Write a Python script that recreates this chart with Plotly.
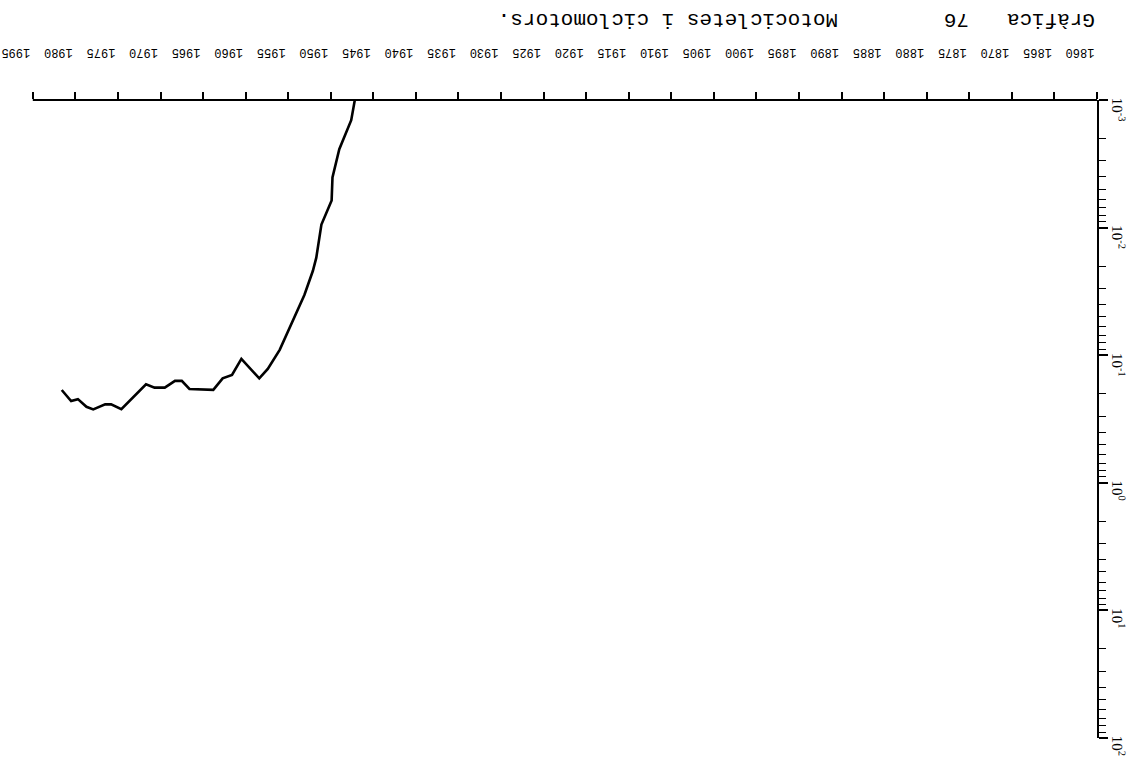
import plotly.graph_objects as go

# Data read from the (upside-down) scanned chart
years = [1946.9, 1947.6, 1949.0, 1949.8, 1949.9, 1951.1, 1951.7, 1952.1, 1953.1,
         1954.8, 1956.0, 1957.4, 1958.4, 1960.5, 1961.6, 1962.7, 1963.8, 1966.6,
         1967.5, 1968.3, 1969.5, 1970.7, 1971.7, 1974.6, 1975.8, 1976.5, 1977.9,
         1978.7, 1979.7, 1980.5, 1981.6]
values = [0.00079, 0.00144, 0.00243, 0.00404, 0.00612, 0.00946, 0.0172, 0.0218, 0.0337,
          0.0612, 0.0908, 0.128, 0.152, 0.107, 0.143, 0.152, 0.187, 0.184,
          0.159, 0.159, 0.1795, 0.1795, 0.169, 0.265, 0.243, 0.243, 0.266,
          0.2535, 0.221, 0.229, 0.1875]

tick_years = [1860, 1865, 1870, 1875, 1880, 1885, 1890, 1895, 1900, 1905, 1910, 1915, 1920,
              1925, 1930, 1935, 1940, 1945, 1950, 1955, 1960, 1965, 1970, 1975, 1980, 1985]
tick_labels = ["1860", "1865", "1870", "1875", "1880", "1885", "1890", "1895", "1900", "1905",
               "1910", "1915", "1920", "1925", "1930", "1935", "1940", "1945", "1950", "1955",
               "1960", "1965", "1970", "1975", "1980", "1995"]
label_offset_years = 0.3  # labels printed just beside their tick

y_tickvals = [0.001, 0.01, 0.1, 1, 10, 100]
y_ticktext = ["10<sup>-3</sup>", "10<sup>-2</sup>", "10<sup>-1</sup>",
              "10<sup>0</sup>", "10<sup>1</sup>", "10<sup>2</sup>"]

title_main = "Gràfica   76"
title_sub = "Motocicletes i ciclomotors."

W, H = 1136, 758
L, R, T, B = 3, 39, 100, 20
x_range = [1988.5, 1860]

def px_x(p):
    return (p - L) / (W - L - R)

def px_y(p):
    return (H - B - p) / (H - T - B)

fig = go.Figure(go.Scatter(x=years, y=values, mode="lines",
                           line=dict(color="black", width=2.6)))

fig.update_layout(
    width=W, height=H,
    margin=dict(l=L, r=R, t=T, b=B),
    plot_bgcolor="white", paper_bgcolor="white",
    showlegend=False,
    xaxis=dict(range=x_range, side="top", automargin=False,
               tickmode="array",
               tickvals=[y + label_offset_years for y in tick_years], ticktext=tick_labels,
               tickangle=180, ticks="", ticklabeloverflow="allow",
               minor=dict(tickmode="array", tickvals=tick_years, ticks="outside",
                          ticklen=7, tickwidth=1.5, tickcolor="black", showgrid=False),
               showline=False, showgrid=False, zeroline=False,
               tickfont=dict(family="Liberation Mono", size=12, color="black"),
               ticklabelstandoff=36),
    yaxis=dict(type="log", range=[2, -3], side="right", tickmode="array", automargin=False,
               tickvals=y_tickvals, ticktext=y_ticktext, tickangle=89.9,
               ticks="outside", ticklen=9, tickwidth=1.5, ticklabeloverflow="allow",
               tickcolor="black", showline=True, linecolor="black", linewidth=1.5,
               showgrid=False, zeroline=False,
               minor=dict(ticks="outside", ticklen=7, dtick="D1", tickcolor="black",
                          tickwidth=1.2, showgrid=False),
               tickfont=dict(family="Liberation Serif", size=15, color="black"),
               ticklabelstandoff=9),
    shapes=[dict(type="line", xref="x", yref="paper",
                 x0=tick_years[-1], x1=tick_years[0], y0=1, y1=1,
                 line=dict(color="black", width=2))],
    annotations=[
        dict(text=title_main, x=px_x(1020), y=px_y(20), xref="paper", yref="paper",
             xanchor="center", yanchor="middle",
             showarrow=False, textangle=180,
             font=dict(family="Liberation Mono", size=21, color="black")),
        dict(text=title_sub, x=px_x(668), y=px_y(20), xref="paper", yref="paper",
             xanchor="center", yanchor="middle",
             showarrow=False, textangle=180,
             font=dict(family="Liberation Mono", size=21, color="black")),
    ],
)

fig.write_html("out.html", config={"displayModeBar": False},
               post_script="document.body.style.margin='0px';")
